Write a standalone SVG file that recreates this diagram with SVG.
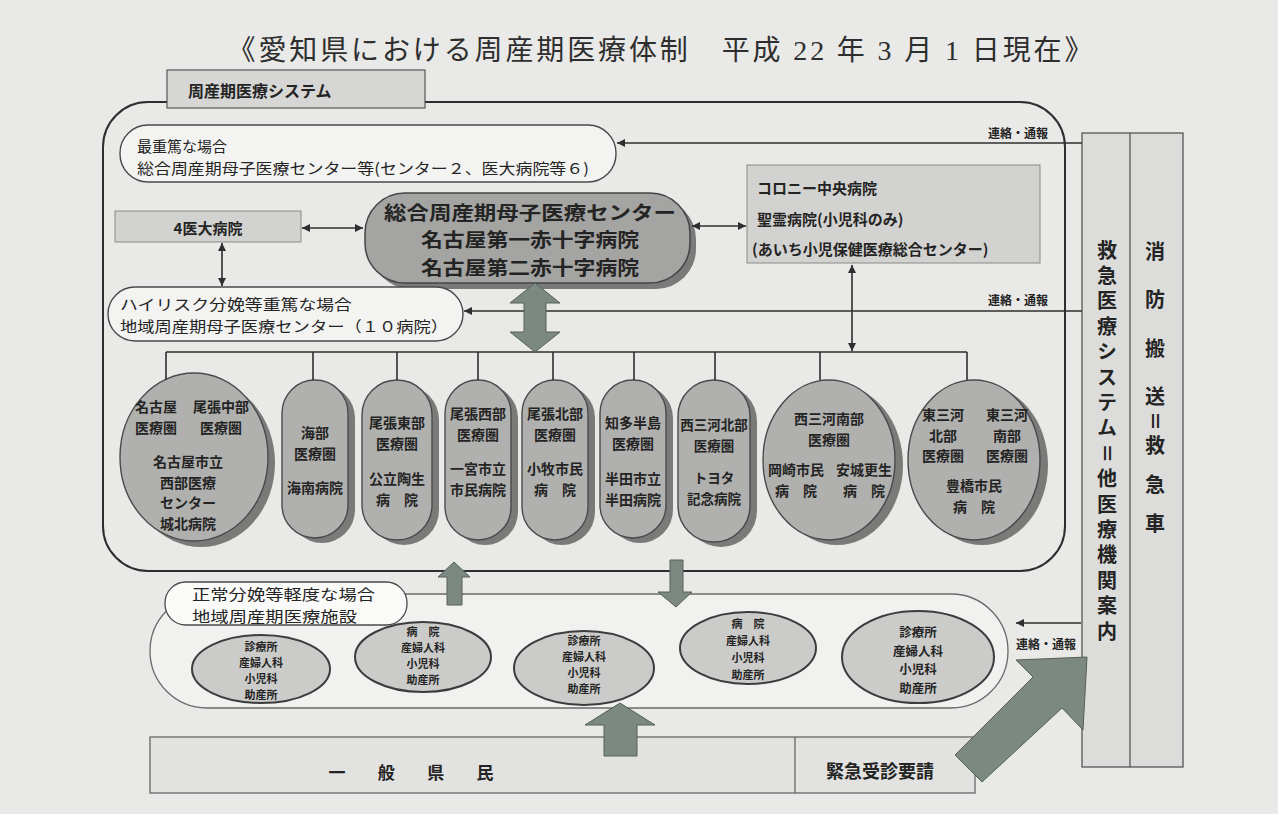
<svg xmlns="http://www.w3.org/2000/svg" width="1278" height="814" viewBox="0 0 1278 814">
<style>
.t{font-family:"Noto Sans CJK JP","Noto Sans",sans-serif;font-weight:bold;fill:#242424;dominant-baseline:central;text-anchor:middle}
.s{text-anchor:start}
.nw{font-weight:normal}
.v{writing-mode:vertical-rl;text-anchor:start}
.ln{stroke:#2e2e2e;stroke-width:1.6;fill:none}
.node{fill:#b0b0ae;stroke:#4a4a4a;stroke-width:1.4}
.sh{fill:#7a7b79}
.gbox{fill:#d2d2d0;stroke:#8a8a88;stroke-width:1}
.pill{fill:#f3f3f1;stroke:#4a4a4a;stroke-width:1.4}
.ell{fill:#cbcbc9;stroke:#3c3c3c;stroke-width:2}
.blk{fill:#7c8882;stroke:#56605b;stroke-width:1}
.f11{font-size:11px}.f12{font-size:12px}.f13{font-size:13.5px}.f14{font-size:14px}.f15{font-size:15px}.f16{font-size:16px}.f19{font-size:19px}.f20{font-size:20px}
</style>
<defs>
<marker id="ah" viewBox="0 0 10 10" refX="10" refY="5" markerWidth="9" markerHeight="8" markerUnits="userSpaceOnUse" orient="auto-start-reverse">
<path d="M0,0 L10,5 L0,10 z" fill="#2e2e2e"/>
</marker>
</defs>
<rect x="0" y="0" width="1278" height="814" fill="#e9e9e7"/>
<text id="title" x="660" y="50" style="font-family:'Liberation Serif','Noto Sans CJK JP',serif;font-size:28px;fill:#2e2e2e;dominant-baseline:central;text-anchor:middle" textLength="865" lengthAdjust="spacing">《愛知県における周産期医療体制　平成 22 年 3 月 1 日現在》</text>

<g id="system-frame">
<rect x="103" y="102" width="962" height="469" rx="45" fill="none" stroke="#2e2e2e" stroke-width="2"/>
</g>
<g id="tab">
<rect x="167" y="70" width="258" height="38" fill="#d6d6d4" stroke="#555" stroke-width="1.2"/>
<text class="t s f16" x="188" y="90">周産期医療システム</text>
</g>

<g id="severe">
<rect class="pill" x="120" y="125" width="496" height="57" rx="28"/>
<text class="t s f15 nw" x="137" y="145"><tspan x="137" y="145">最重篤な場合</tspan><tspan x="137" y="167" textLength="452" lengthAdjust="spacingAndGlyphs">総合周産期母子医療センター等(センター２、医大病院等６)</tspan></text>
</g>
<g id="univ4">
<rect class="gbox" x="115" y="211" width="186" height="31"/>
<text class="t f15" x="208" y="227">4医大病院</text>
</g>
<g id="center">
<rect x="371" y="199" width="325" height="90" rx="40" class="sh"/>
<rect x="365" y="193" width="325" height="90" rx="40" fill="#a4a4a2" stroke="#444" stroke-width="1.5"/>
<text class="t f19" x="530" y="210.5"><tspan x="530" y="210.5" textLength="292" lengthAdjust="spacingAndGlyphs">総合周産期母子医療センター</tspan><tspan x="530" y="238" textLength="218" lengthAdjust="spacingAndGlyphs">名古屋第一赤十字病院</tspan><tspan x="530" y="265.5" textLength="218" lengthAdjust="spacingAndGlyphs">名古屋第二赤十字病院</tspan></text>
</g>
<g id="colony">
<rect class="gbox" x="747" y="165" width="293" height="98"/>
<text class="t s f15" x="757" y="187"><tspan x="757" y="187">コロニー中央病院</tspan><tspan x="757" y="218">聖霊病院(小児科のみ)</tspan><tspan x="752" y="248">(あいち小児保健医療総合センター)</tspan></text>
</g>
<g id="highrisk">
<rect class="pill" x="108" y="287" width="355" height="54" rx="27"/>
<text class="t s f15 nw" x="120" y="303"><tspan x="120" y="303" textLength="232" lengthAdjust="spacingAndGlyphs">ハイリスク分娩等重篤な場合</tspan><tspan x="120" y="325" textLength="328" lengthAdjust="spacingAndGlyphs">地域周産期母子医療センター（１０病院）</tspan></text>
</g>

<g id="n-nagoya">
<ellipse class="sh" cx="201" cy="463" rx="74" ry="84"/>
<ellipse class="node" cx="194" cy="457" rx="74" ry="84"/>
<text class="t f14" x="156" y="406"><tspan x="156" y="406">名古屋</tspan><tspan x="156" y="426.5">医療圏</tspan></text>
<text class="t f14" x="221" y="406"><tspan x="221" y="406">尾張中部</tspan><tspan x="221" y="426.5">医療圏</tspan></text>
<text class="t f14" x="188" y="461"><tspan x="188" y="461">名古屋市立</tspan><tspan x="188" y="481.5">西部医療</tspan><tspan x="188" y="502">センター</tspan><tspan x="188" y="522.5">城北病院</tspan></text>
</g>
<g id="n-ama">
<rect class="sh" x="289" y="385" width="66" height="158" rx="33"/>
<rect class="node" x="282" y="380" width="66" height="158" rx="33"/>
<text class="t f14" x="315" y="432"><tspan x="315" y="432">海部</tspan><tspan x="315" y="452.5">医療圏</tspan><tspan x="315" y="487">海南病院</tspan></text>
</g>
<g id="n-owari-east">
<rect class="sh" x="369" y="385" width="70" height="160" rx="35"/>
<rect class="node" x="362" y="380" width="70" height="160" rx="35"/>
<text class="t f14" x="397" y="422"><tspan x="397" y="422">尾張東部</tspan><tspan x="397" y="442.5">医療圏</tspan><tspan x="397" y="478">公立陶生</tspan><tspan x="397" y="498.5">病　院</tspan></text>
</g>
<g id="n-owari-west">
<rect class="sh" x="452" y="385" width="66" height="160" rx="33"/>
<rect class="node" x="445" y="380" width="66" height="160" rx="33"/>
<text class="t f14" x="478" y="413"><tspan x="478" y="413">尾張西部</tspan><tspan x="478" y="433.5">医療圏</tspan><tspan x="478" y="468">一宮市立</tspan><tspan x="478" y="488.5">市民病院</tspan></text>
</g>
<g id="n-owari-north">
<rect class="sh" x="529" y="385" width="66" height="160" rx="33"/>
<rect class="node" x="522" y="380" width="66" height="160" rx="33"/>
<text class="t f14" x="555" y="413"><tspan x="555" y="413">尾張北部</tspan><tspan x="555" y="433.5">医療圏</tspan><tspan x="555" y="468">小牧市民</tspan><tspan x="555" y="488.5">病　院</tspan></text>
</g>
<g id="n-chita">
<rect class="sh" x="607" y="385" width="66" height="158" rx="33"/>
<rect class="node" x="600" y="380" width="66" height="158" rx="33"/>
<text class="t f14" x="633" y="422"><tspan x="633" y="422">知多半島</tspan><tspan x="633" y="442.5">医療圏</tspan><tspan x="633" y="478">半田市立</tspan><tspan x="633" y="498.5">半田病院</tspan></text>
</g>
<g id="n-nishimikawa-north">
<rect class="sh" x="685" y="385" width="72" height="162" rx="36"/>
<rect class="node" x="678" y="380" width="72" height="162" rx="36"/>
<text class="t f13" x="714" y="424"><tspan x="714" y="424">西三河北部</tspan><tspan x="714" y="444.5">医療圏</tspan><tspan x="714" y="477">トヨタ</tspan><tspan x="714" y="497.5">記念病院</tspan></text>
</g>
<g id="n-nishimikawa-south">
<ellipse class="sh" cx="837" cy="465" rx="66" ry="80"/>
<ellipse class="node" cx="829" cy="460" rx="66" ry="80"/>
<text class="t f14" x="829" y="418"><tspan x="829" y="418">西三河南部</tspan><tspan x="829" y="438.5">医療圏</tspan></text>
<text class="t f14" x="796" y="469"><tspan x="796" y="469">岡崎市民</tspan><tspan x="796" y="489.5">病　院</tspan></text>
<text class="t f14" x="864" y="469"><tspan x="864" y="469">安城更生</tspan><tspan x="864" y="489.5">病　院</tspan></text>
</g>
<g id="n-higashimikawa">
<ellipse class="sh" cx="982" cy="465" rx="66" ry="80"/>
<ellipse class="node" cx="974" cy="460" rx="66" ry="80"/>
<text class="t f14" x="943" y="414"><tspan x="943" y="414">東三河</tspan><tspan x="943" y="434.5">北部</tspan><tspan x="943" y="455">医療圏</tspan></text>
<text class="t f14" x="1007" y="414"><tspan x="1007" y="414">東三河</tspan><tspan x="1007" y="434.5">南部</tspan><tspan x="1007" y="455">医療圏</tspan></text>
<text class="t f14" x="974" y="485"><tspan x="974" y="485">豊橋市民</tspan><tspan x="974" y="505.5">病　院</tspan></text>
</g>

<g id="local-facilities">
<rect x="150" y="594" width="858" height="114" rx="57" fill="#f1f1ef" stroke="#6a6a6a" stroke-width="1.3"/>
<rect x="165" y="582" width="242" height="43" rx="21" fill="#fafaf8" stroke="#4a4a4a" stroke-width="1.3"/>
<text class="t s f15 nw" x="192" y="593"><tspan x="192" y="593" textLength="183" lengthAdjust="spacingAndGlyphs">正常分娩等軽度な場合</tspan><tspan x="192" y="615" textLength="165" lengthAdjust="spacingAndGlyphs">地域周産期医療施設</tspan></text>
</g>
<g id="e1">
<ellipse class="ell" cx="261" cy="669" rx="69" ry="34"/>
<text class="t f11" x="261" y="646"><tspan x="261" y="646">診療所</tspan><tspan x="261" y="662">産婦人科</tspan><tspan x="261" y="678">小児科</tspan><tspan x="261" y="694">助産所</tspan></text>
</g>
<g id="e2">
<ellipse class="ell" cx="423" cy="657" rx="68" ry="35"/>
<text class="t f11" x="423" y="631"><tspan x="423" y="631">病　院</tspan><tspan x="423" y="647">産婦人科</tspan><tspan x="423" y="663">小児科</tspan><tspan x="423" y="679">助産所</tspan></text>
</g>
<g id="e3">
<ellipse class="ell" cx="584" cy="668" rx="70" ry="37"/>
<text class="t f11" x="584" y="640"><tspan x="584" y="640">診療所</tspan><tspan x="584" y="656">産婦人科</tspan><tspan x="584" y="672">小児科</tspan><tspan x="584" y="688">助産所</tspan></text>
</g>
<g id="e4">
<ellipse class="ell" cx="748" cy="648" rx="68" ry="36"/>
<text class="t f11" x="748" y="623"><tspan x="748" y="623">病　院</tspan><tspan x="748" y="640">産婦人科</tspan><tspan x="748" y="657">小児科</tspan><tspan x="748" y="674">助産所</tspan></text>
</g>
<g id="e5">
<ellipse class="ell" cx="918" cy="657" rx="76" ry="46"/>
<text class="t f12" x="918" y="631" style="font-size:12.5px"><tspan x="918" y="631">診療所</tspan><tspan x="918" y="649.5">産婦人科</tspan><tspan x="918" y="668">小児科</tspan><tspan x="918" y="686.5">助産所</tspan></text>
</g>

<g id="emergency-panel">
<rect x="1082" y="133" width="101" height="634" fill="#dcdcda" stroke="#555" stroke-width="1.3"/>
<line x1="1130" y1="133" x2="1130" y2="767" stroke="#555" stroke-width="1.3"/>
<text class="t f20 v" x="1107" y="240" style="letter-spacing:5.4px">救急医療システム＝他医療機関案内</text>
<text class="t f20 v" x="1155" y="241"><tspan y="241">消</tspan><tspan y="289">防</tspan><tspan y="338">搬</tspan><tspan y="386">送</tspan><tspan y="411">＝</tspan><tspan y="435">救</tspan><tspan y="474">急</tspan><tspan y="513">車</tspan></text>
</g>

<g id="citizens">
<rect x="150" y="737" width="825" height="56" fill="#e2e2e0" stroke="#666" stroke-width="1.3"/>
<line x1="795" y1="737" x2="795" y2="793" stroke="#666" stroke-width="1.3"/>
<text class="t f16" x="411" y="771" style="font-size:17px" textLength="165" lengthAdjust="spacing">一　般　県　民</text>
<text class="t f16" x="880" y="770" style="font-size:18px">緊急受診要請</text>
</g>

<g id="connectors">
<line class="ln" x1="302" y1="228" x2="363" y2="228" marker-start="url(#ah)" marker-end="url(#ah)"/>
<line class="ln" x1="222" y1="243" x2="222" y2="286" marker-start="url(#ah)" marker-end="url(#ah)"/>
<line class="ln" x1="692" y1="226" x2="746" y2="226" marker-start="url(#ah)" marker-end="url(#ah)"/>
<line class="ln" x1="852" y1="265" x2="852" y2="351" marker-start="url(#ah)" marker-end="url(#ah)"/>
<line class="ln" x1="1082" y1="143" x2="617" y2="143" marker-end="url(#ah)"/>
<line class="ln" x1="1082" y1="311" x2="464" y2="311" marker-end="url(#ah)"/>
<line class="ln" x1="1081" y1="623" x2="1016" y2="623" marker-end="url(#ah)"/>
<text class="t f12" x="1018" y="132">連絡・通報</text>
<text class="t f12" x="1018" y="299">連絡・通報</text>
<text class="t f12" x="1046" y="643">連絡・通報</text>
<path class="ln" d="M166,352 H967 M166,352 V380 M313,352 V380 M397,352 V380 M478,352 V380 M553,352 V380 M634,352 V380 M715,352 V380 M820,352 V380 M967,352 V380"/>
<polygon class="blk" points="535,283 560,303 546,303 546,332 560,332 535,352 510,332 524,332 524,303 510,303"/>
<polygon class="blk" points="454,562 470,577 462,577 462,605 447,605 447,577 438,577"/>
<polygon class="blk" points="670,560 683,560 683,592 692,592 676,607 658,592 670,592"/>
<polygon class="blk" points="620,703 655,725 637,725 637,756 604,756 604,725 585,725"/>
<polygon class="blk" points="955,755 1033,677 1016,660 1087,657 1083,730 1062,708 982,782"/>
</g>
</svg>
